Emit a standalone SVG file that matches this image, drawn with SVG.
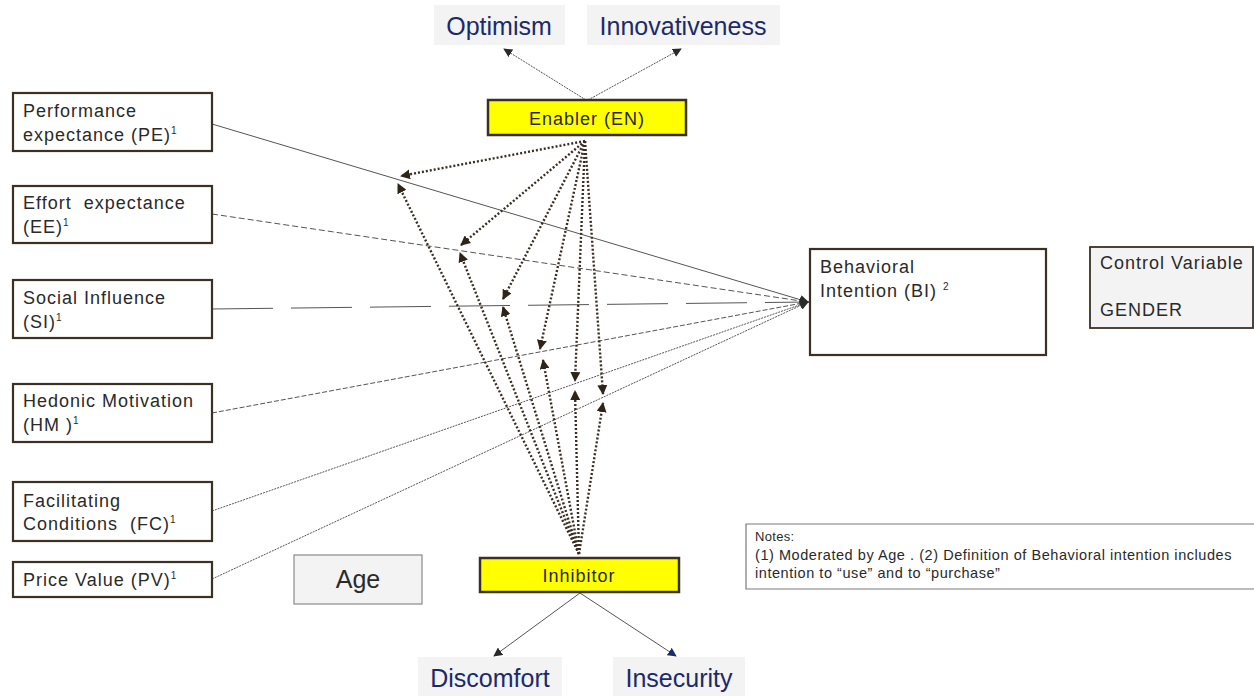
<svg xmlns="http://www.w3.org/2000/svg" width="1254" height="696" viewBox="0 0 1254 696">
  <style>
    .box { fill: #ffffff; stroke: #3b3024; stroke-width: 2.2; }
    .yel { fill: #ffff00; stroke: #3b3024; stroke-width: 2.5; }
    .grey { fill: #f3f3f3; stroke: none; }
    .lbl { font-family: "Liberation Sans", Arial, sans-serif; font-size: 18px; letter-spacing: 1px; fill: #2a2a2a; }
    .sup { font-size: 10px; letter-spacing: 0; }
    .big { font-family: "Liberation Sans", Arial, sans-serif; font-size: 25px; fill: #1b2a6b; text-anchor: middle; }
    .note { font-family: "Liberation Sans", Arial, sans-serif; font-size: 14.5px; letter-spacing: 0.55px; fill: #2a2a2a; }
    .dot { fill: none; stroke: #3a2e22; stroke-width: 2.4; stroke-dasharray: 2 2; }
    .thin { fill: none; stroke: #555; stroke-width: 1; }
  </style>
  <defs>
    <marker id="ah" markerUnits="userSpaceOnUse" markerWidth="10" markerHeight="10" viewBox="0 0 10 10" refX="9" refY="5" orient="auto">
      <path d="M0,0 L10,5 L0,10 z" fill="#2e2418"/>
    </marker>
    <marker id="ahs" markerUnits="userSpaceOnUse" markerWidth="9" markerHeight="9" viewBox="0 0 10 10" refX="9" refY="5" orient="auto">
      <path d="M0,0 L10,5 L0,10 z" fill="#2a2a2a"/>
    </marker>
    <marker id="ahb" markerUnits="userSpaceOnUse" markerWidth="9" markerHeight="9" viewBox="0 0 10 10" refX="9" refY="5" orient="auto">
      <path d="M0,0 L10,5 L0,10 z" fill="#1b2a6b"/>
    </marker>
  </defs>

  <rect width="1254" height="696" fill="#ffffff"/>

  <!-- connectors -->
  <g id="connectors">
    <!-- construct links into Behavioral Intention -->
    <line class="thin" x1="212" y1="124" x2="808" y2="302" stroke="#4a4a4a" marker-end="url(#ahs)"/>
    <line class="thin" x1="212" y1="214" x2="808" y2="302" stroke-dasharray="6 3" marker-end="url(#ahs)"/>
    <line class="thin" x1="212" y1="309" x2="808" y2="302" stroke="#6a6356" stroke-dasharray="61 18" marker-end="url(#ahs)"/>
    <line class="thin" x1="212" y1="413" x2="808" y2="302" stroke-dasharray="5 2" marker-end="url(#ahs)"/>
    <line class="thin" x1="212" y1="511" x2="808" y2="302" stroke="#777" stroke-dasharray="2 1" marker-end="url(#ahs)"/>
    <line class="thin" x1="212" y1="579" x2="808" y2="302" stroke="#777" stroke-dasharray="2 1" marker-end="url(#ahs)"/>

    <!-- Enabler moderation arrows -->
    <line class="dot" x1="585" y1="141" x2="401" y2="176" marker-end="url(#ah)"/>
    <line class="dot" x1="585" y1="141" x2="461" y2="245" marker-end="url(#ah)"/>
    <line class="dot" x1="585" y1="141" x2="503" y2="299" marker-end="url(#ah)"/>
    <line class="dot" x1="585" y1="141" x2="540" y2="349" marker-end="url(#ah)"/>
    <line class="dot" x1="585" y1="141" x2="575" y2="381" marker-end="url(#ah)"/>
    <line class="dot" x1="585" y1="141" x2="603" y2="394" marker-end="url(#ah)"/>

    <!-- Inhibitor moderation arrows -->
    <line class="dot" x1="579" y1="554" x2="398" y2="184" marker-end="url(#ah)"/>
    <line class="dot" x1="579" y1="554" x2="460" y2="253" marker-end="url(#ah)"/>
    <line class="dot" x1="579" y1="554" x2="503" y2="307" marker-end="url(#ah)"/>
    <line class="dot" x1="579" y1="554" x2="543" y2="360" marker-end="url(#ah)"/>
    <line class="dot" x1="579" y1="554" x2="575" y2="391" marker-end="url(#ah)"/>
    <line class="dot" x1="579" y1="554" x2="603" y2="403" marker-end="url(#ah)"/>

    <!-- Enabler / Inhibitor dimensions -->
    <line class="thin" x1="586" y1="100" x2="504" y2="49" stroke-dasharray="2 1" marker-end="url(#ahs)"/>
    <line class="thin" x1="588" y1="100" x2="681" y2="49" stroke-dasharray="2 1" marker-end="url(#ahs)"/>
    <line class="thin" x1="580" y1="593" x2="494" y2="656" marker-end="url(#ahs)"/>
    <line class="thin" x1="580" y1="593" x2="676" y2="656" stroke="#1b2a6b" marker-end="url(#ahb)"/>
  </g>

  <!-- constructs -->
  <g id="pe">
    <rect class="box" x="13" y="93" width="199" height="58"/>
    <text class="lbl" x="23" y="117">Performance</text>
    <text class="lbl" x="23" y="141">expectance (PE)<tspan class="sup" dy="-7">1</tspan></text>
  </g>
  <g id="ee">
    <rect class="box" x="13" y="186" width="199" height="57"/>
    <text class="lbl" x="23" y="209" xml:space="preserve">Effort  expectance</text>
    <text class="lbl" x="23" y="233">(EE)<tspan class="sup" dy="-7">1</tspan></text>
  </g>
  <g id="si">
    <rect class="box" x="13" y="280" width="199" height="58"/>
    <text class="lbl" x="23" y="304">Social Influence</text>
    <text class="lbl" x="23" y="328">(SI)<tspan class="sup" dy="-7">1</tspan></text>
  </g>
  <g id="hm">
    <rect class="box" x="13" y="384" width="199" height="58"/>
    <text class="lbl" x="23" y="407">Hedonic Motivation</text>
    <text class="lbl" x="23" y="431" xml:space="preserve">(HM )<tspan class="sup" dy="-7">1</tspan></text>
  </g>
  <g id="fc">
    <rect class="box" x="13" y="482" width="199" height="59"/>
    <text class="lbl" x="23" y="507">Facilitating</text>
    <text class="lbl" x="23" y="530" xml:space="preserve">Conditions  (FC)<tspan class="sup" dy="-7">1</tspan></text>
  </g>
  <g id="pv">
    <rect class="box" x="13" y="562" width="199" height="35"/>
    <text class="lbl" x="23" y="586">Price Value (PV)<tspan class="sup" dy="-7">1</tspan></text>
  </g>
  <g id="age">
    <rect x="294" y="555" width="128" height="49" fill="#f3f3f3" stroke="#8a8a8a" stroke-width="1.2"/>
    <text class="big" x="358" y="588" style="fill:#2a2a2a">Age</text>
  </g>

  <g id="enabler">
    <rect class="yel" x="488" y="100" width="198" height="35"/>
    <text class="lbl" x="587" y="125" text-anchor="middle">Enabler (EN)</text>
  </g>
  <g id="inhibitor">
    <rect class="yel" x="480" y="558" width="199" height="34"/>
    <text class="lbl" x="579" y="582" text-anchor="middle">Inhibitor</text>
  </g>

  <g id="optimism">
    <rect class="grey" x="434" y="5" width="131" height="40"/>
    <text class="big" x="499" y="35">Optimism</text>
  </g>
  <g id="innovativeness">
    <rect class="grey" x="587" y="5" width="193" height="40"/>
    <text class="big" x="683" y="35">Innovativeness</text>
  </g>
  <g id="discomfort">
    <rect class="grey" x="418" y="657" width="144" height="39"/>
    <text class="big" x="490" y="687">Discomfort</text>
  </g>
  <g id="insecurity">
    <rect class="grey" x="613" y="657" width="132" height="39"/>
    <text class="big" x="679" y="687">Insecurity</text>
  </g>

  <g id="bi">
    <rect class="box" x="810" y="249" width="236" height="106"/>
    <text class="lbl" x="820" y="273">Behavioral</text>
    <text class="lbl" x="820" y="297">Intention (BI) <tspan class="sup" dy="-7">2</tspan></text>
  </g>
  <g id="control">
    <rect x="1090" y="247" width="163" height="81" fill="#f3f3f3" stroke="#3b3024" stroke-width="1.8"/>
    <text class="lbl" x="1100" y="269">Control Variable</text>
    <text class="lbl" x="1100" y="316">GENDER</text>
  </g>

  <g id="notes">
    <path d="M1254,524 H746 V589 H1254" fill="#ffffff" stroke="#7a7a7a" stroke-width="1.2"/>
    <text class="note" x="755" y="541" style="font-size:13px;letter-spacing:0.3px">Notes:</text>
    <text class="note" x="755" y="560">(1) Moderated by Age . (2) Definition of Behavioral intention includes</text>
    <text class="note" x="755" y="578">intention to “use” and to “purchase”</text>
  </g>
</svg>
